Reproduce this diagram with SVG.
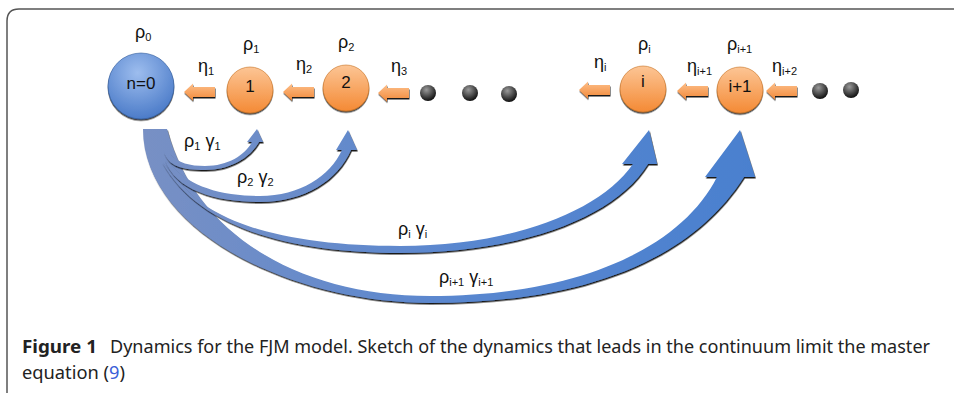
<svg xmlns="http://www.w3.org/2000/svg" width="954" height="393" viewBox="0 0 954 393">
<defs>
<style>
.lbl{font-family:"Liberation Sans","DejaVu Sans",sans-serif;font-size:18px;fill:#111}
.sub{font-size:11px}
.nl{font-family:"Liberation Sans","DejaVu Sans",sans-serif;font-size:17px;fill:#111;text-anchor:middle}
.cap{font-family:"Noto Sans","Open Sans",sans-serif;font-size:18px;fill:#222}
.orn{fill:url(#og);stroke:#c87020;stroke-width:0.6}
.oarr{fill:url(#oa);filter:url(#sh)}
.barr{fill:url(#bg);filter:url(#sh2)}
.dot{fill:url(#dg)}
</style>
<radialGradient id="ng" cx="0.45" cy="0.3" r="0.75">
<stop offset="0" stop-color="#9dbdee"/><stop offset="1" stop-color="#4677c6"/>
</radialGradient>
<linearGradient id="og" x1="0" y1="0" x2="0" y2="1">
<stop offset="0" stop-color="#fcc595"/><stop offset="1" stop-color="#f48a35"/>
</linearGradient>
<linearGradient id="oa" x1="0" y1="0" x2="0" y2="1">
<stop offset="0" stop-color="#fdbf8a"/><stop offset="1" stop-color="#f28a3a"/>
</linearGradient>
<radialGradient id="dg" cx="0.4" cy="0.3" r="0.7">
<stop offset="0" stop-color="#9a9a9a"/><stop offset="1" stop-color="#101010"/>
</radialGradient>
<linearGradient id="bg" gradientUnits="userSpaceOnUse" x1="140" y1="0" x2="760" y2="0">
<stop offset="0" stop-color="#7890c4"/><stop offset="0.5" stop-color="#5a87cf"/><stop offset="1" stop-color="#4a80cf"/>
</linearGradient>
<filter id="sh" x="-20%" y="-20%" width="140%" height="160%">
<feDropShadow dx="0.5" dy="1.5" stdDeviation="0.5" flood-color="#000" flood-opacity="0.9"/>
</filter>
<filter id="sh2" x="-10%" y="-10%" width="120%" height="130%">
<feDropShadow dx="0.8" dy="1.5" stdDeviation="0.5" flood-color="#000" flood-opacity="0.9"/>
</filter>
<filter id="nsh" x="-20%" y="-20%" width="140%" height="150%">
<feDropShadow dx="0" dy="1.5" stdDeviation="0.6" flood-color="#000" flood-opacity="0.8"/>
</filter>
<path id="oarrow" d="M0,0 L9,-8.5 L9,-5 L31,-5 L31,5 L9,5 L9,8.5 Z"/>
</defs>
<rect width="954" height="393" fill="#fff"/>
<path d="M7,393 L7,21 Q7,9 19,9 L954,9" fill="none" stroke="#555" stroke-width="1.5"/>

<g id="connectors">
<path class="barr" d="M143,129 C143,230 290,303 430,303 C580,303 690,262 744,177 L755,177 L740,130 L705,177 L717,177 C680,250 575,296 430,296 C300,296 195,235 167,129 Z"/>
<path class="barr" d="M162,162 C200,232 300,253 400,253 C520,253 615,218 648,164 L657,164 L649,130 L622,164 L633,164 C600,212 510,246 400,246 C300,246 215,228 180,182 Z"/>
<path class="barr" d="M165,160 C175,190 215,202 260,202 C305,202 338,180 351,150 L357,150 L348,130 L336,150 L342,150 C330,176 300,196 260,196 C220,196 190,186 172,166 Z"/>
<path class="barr" d="M164,152 C168,166 182,170 205,170 C230,170 250,158 259,142 L263,142 L257,129 L247,142 L252,142 C245,155 228,166 205,166 C190,166 178,163 170,154 Z"/>
<use href="#oarrow" class="oarr" x="184" y="92"/>
<use href="#oarrow" class="oarr" x="283" y="92"/>
<use href="#oarrow" class="oarr" x="378" y="93"/>
<use href="#oarrow" class="oarr" x="579" y="90"/>
<use href="#oarrow" class="oarr" x="677" y="91"/>
<use href="#oarrow" class="oarr" x="766" y="91"/>
</g>

<g id="node0">
<circle cx="141" cy="86" r="33" fill="url(#ng)" stroke="#2f5a9c" stroke-width="0.6" filter="url(#nsh)"/>
<text class="nl" x="141" y="89">n=0</text>
</g>
<g id="node1">
<circle cx="250" cy="90" r="23" class="orn" filter="url(#nsh)"/>
<text class="nl" x="250" y="92">1</text>
</g>
<g id="node2">
<circle cx="346" cy="88" r="23" class="orn" filter="url(#nsh)"/>
<text class="nl" x="346" y="88">2</text>
</g>
<g id="nodei">
<circle cx="643" cy="89" r="23" class="orn" filter="url(#nsh)"/>
<text class="nl" x="643" y="87">i</text>
</g>
<g id="nodei1">
<circle cx="740" cy="90" r="23" class="orn" filter="url(#nsh)"/>
<text class="nl" x="740" y="92">i+1</text>
</g>
<g id="dots">
<circle class="dot" cx="428" cy="93" r="8"/>
<circle class="dot" cx="470" cy="93" r="8"/>
<circle class="dot" cx="509" cy="94" r="8"/>
<circle class="dot" cx="820" cy="91" r="8"/>
<circle class="dot" cx="851" cy="90" r="8"/>
</g>

<g id="labels">
<text class="lbl" x="135" y="38">ρ<tspan class="sub" dy="3">0</tspan></text>
<text class="lbl" x="243" y="50">ρ<tspan class="sub" dy="3">1</tspan></text>
<text class="lbl" x="338" y="48">ρ<tspan class="sub" dy="3">2</tspan></text>
<text class="lbl" x="638" y="50">ρ<tspan class="sub" dy="3">i</tspan></text>
<text class="lbl" x="727" y="50">ρ<tspan class="sub" dy="3">i+1</tspan></text>
<text class="lbl" x="198" y="72">η<tspan class="sub" dy="3">1</tspan></text>
<text class="lbl" x="296" y="70">η<tspan class="sub" dy="3">2</tspan></text>
<text class="lbl" x="391" y="72">η<tspan class="sub" dy="3">3</tspan></text>
<text class="lbl" x="594" y="68">η<tspan class="sub" dy="3">i</tspan></text>
<text class="lbl" x="687" y="72">η<tspan class="sub" dy="3">i+1</tspan></text>
<text class="lbl" x="772" y="72">η<tspan class="sub" dy="3">i+2</tspan></text>
<text class="lbl" x="184" y="147">ρ<tspan class="sub" dy="3">1</tspan><tspan dy="-3"> γ</tspan><tspan class="sub" dy="3">1</tspan></text>
<text class="lbl" x="237" y="183">ρ<tspan class="sub" dy="3">2</tspan><tspan dy="-3"> γ</tspan><tspan class="sub" dy="3">2</tspan></text>
<text class="lbl" x="398" y="235">ρ<tspan class="sub" dy="3">i</tspan><tspan dy="-3"> γ</tspan><tspan class="sub" dy="3">i</tspan></text>
<text class="lbl" x="439" y="283">ρ<tspan class="sub" dy="3">i+1</tspan><tspan dy="-3"> γ</tspan><tspan class="sub" dy="3">i+1</tspan></text>
</g>

<g id="caption">
<text class="cap" x="22" y="353" font-weight="bold" textLength="75" lengthAdjust="spacingAndGlyphs">Figure 1</text>
<text class="cap" x="110" y="353" textLength="820" lengthAdjust="spacingAndGlyphs">Dynamics for the FJM model. Sketch of the dynamics that leads in the continuum limit the master</text>
<text class="cap" x="22" y="379" textLength="103" lengthAdjust="spacingAndGlyphs">equation (<tspan fill="#3a5ed8">9</tspan>)</text>
</g>
</svg>
